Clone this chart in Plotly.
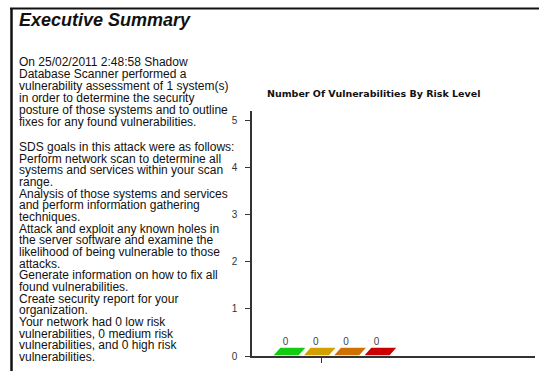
import plotly.graph_objects as go

# ---- data -------------------------------------------------------------
risk_levels = ["Low", "Medium", "High", "Critical"]
vuln_counts = [0, 0, 0, 0]
bar_colors = ["#11cc11", "#d4a000", "#d07000", "#cc0000"]
y_ticks = [0, 1, 2, 3, 4, 5]

heading = "Executive Summary"
chart_title = "Number Of Vulnerabilities By Risk Level"
paragraph_1 = [
    "On 25/02/2011 2:48:58 Shadow",
    "Database Scanner performed a",
    "vulnerability assessment of 1 system(s)",
    "in order to determine the security",
    "posture of those systems and to outline",
    "fixes for any found vulnerabilities.",
]
paragraph_2 = [
    "SDS goals in this attack were as follows:",
    "Perform network scan to determine all",
    "systems and services within your scan",
    "range.",
    "Analysis of those systems and services",
    "and perform information gathering",
    "techniques.",
    "Attack and exploit any known holes in",
    "the server software and examine the",
    "likelihood of being vulnerable to those",
    "attacks.",
    "Generate information on how to fix all",
    "found vulnerabilities.",
    "Create security report for your",
    "organization.",
    "Your network had 0 low risk",
    "vulnerabilities, 0 medium risk",
    "vulnerabilities, and 0 high risk",
    "vulnerabilities.",
]

# ---- page geometry ------------------------------------------------------
W, H = 539, 371
ML, MR, MT, MB = 252, 4, 111, 15
PW, PH = W - ML - MR, H - MT - MB

X_RANGE = [-0.106, -0.106 + PW / 30.3]
Y_RANGE = [0, 5.2]
BAR_W = 0.89
DX = 8 / 30.3                       # 3-D depth offset, x units
DY = 9 / (PH / (Y_RANGE[1] - Y_RANGE[0]))  # 3-D depth offset, y units


def px_x(p):
    return (p - ML) / PW


def px_y(p):
    return (H - MB - p) / PH


fig = go.Figure()

# 3-D style bars: front face plus skewed top face
for i, (name, v, c) in enumerate(zip(risk_levels, vuln_counts, bar_colors)):
    xc = i + 1
    x0, x1 = xc - BAR_W / 2, xc + BAR_W / 2
    if v > 0:
        fig.add_trace(go.Scatter(
            x=[x0, x1, x1, x0, x0], y=[0, 0, v, v, 0],
            mode="lines", fill="toself", fillcolor=c,
            line=dict(color="white", width=1), hoverinfo="skip",
            showlegend=False))
        fig.add_trace(go.Scatter(
            x=[x1, x1 + DX, x1 + DX, x1, x1], y=[0, DY, v + DY, v, 0],
            mode="lines", fill="toself", fillcolor=c,
            line=dict(color="white", width=1), hoverinfo="skip",
            showlegend=False))
    fig.add_trace(go.Scatter(
        x=[x0, x1, x1 + DX, x0 + DX, x0], y=[v, v, v + DY, v + DY, v],
        mode="lines", fill="toself", fillcolor=c,
        line=dict(color="white", width=1.5), name=name,
        hoverinfo="name", showlegend=False))
    fig.add_trace(go.Scatter(
        x=[xc], y=[v + DY], mode="text", text=[str(v)],
        textposition="top center",
        textfont=dict(family="Liberation Sans, Arial", size=10, color="#444"),
        hoverinfo="skip", showlegend=False))

fig.update_layout(
    width=W, height=H,
    margin=dict(l=ML, r=MR, t=MT, b=MB),
    paper_bgcolor="white", plot_bgcolor="white",
    xaxis=dict(range=X_RANGE, showgrid=False, zeroline=False,
               showline=True, linecolor="#333", linewidth=1.5,
               tickvals=[2.2], ticktext=[""], ticks="outside",
               ticklen=5, tickcolor="#333"),
    yaxis=dict(range=Y_RANGE, showgrid=False, zeroline=False,
               showline=True, linecolor="#333", linewidth=1.5,
               tickvals=y_ticks, ticks="outside", ticklen=5,
               tickcolor="#333", ticklabelstandoff=6,
               tickfont=dict(family="Liberation Sans, Arial", size=10,
                             color="#333")),
)

ann = []
ann.append(dict(text=f"<b><i>{heading}</i></b>", x=px_x(17), y=px_y(20),
                xref="paper", yref="paper", xanchor="left", yanchor="middle",
                showarrow=False,
                font=dict(family="Liberation Sans, Arial", size=18,
                          color="#111")))
ann.append(dict(text=f"<b>{chart_title}</b>", x=px_x(373), y=px_y(93),
                xref="paper", yref="paper", xanchor="center",
                yanchor="middle", showarrow=False,
                font=dict(family="DejaVu Sans", size=9.5, color="#111")))

body_font = dict(family="Liberation Sans, Arial", size=12, color="#111")
for k, line in enumerate(paragraph_1):
    ann.append(dict(text=line, x=px_x(17), y=px_y(62 + 12 * k),
                    xref="paper", yref="paper", xanchor="left",
                    yanchor="middle", showarrow=False, font=body_font))
for k, line in enumerate(paragraph_2):
    ann.append(dict(text=line, x=px_x(17), y=px_y(147 + 11.67 * k),
                    xref="paper", yref="paper", xanchor="left",
                    yanchor="middle", showarrow=False, font=body_font))
fig.update_layout(annotations=ann)

# page frame: top and left rules
fig.add_shape(type="line", xref="paper", yref="paper",
              x0=px_x(10), x1=px_x(539), y0=px_y(8.5), y1=px_y(8.5),
              line=dict(color="#111", width=2))
fig.add_shape(type="line", xref="paper", yref="paper",
              x0=px_x(11.5), x1=px_x(11.5), y0=px_y(8), y1=px_y(371),
              line=dict(color="#111", width=2.5))

fig.write_html("out.html")
